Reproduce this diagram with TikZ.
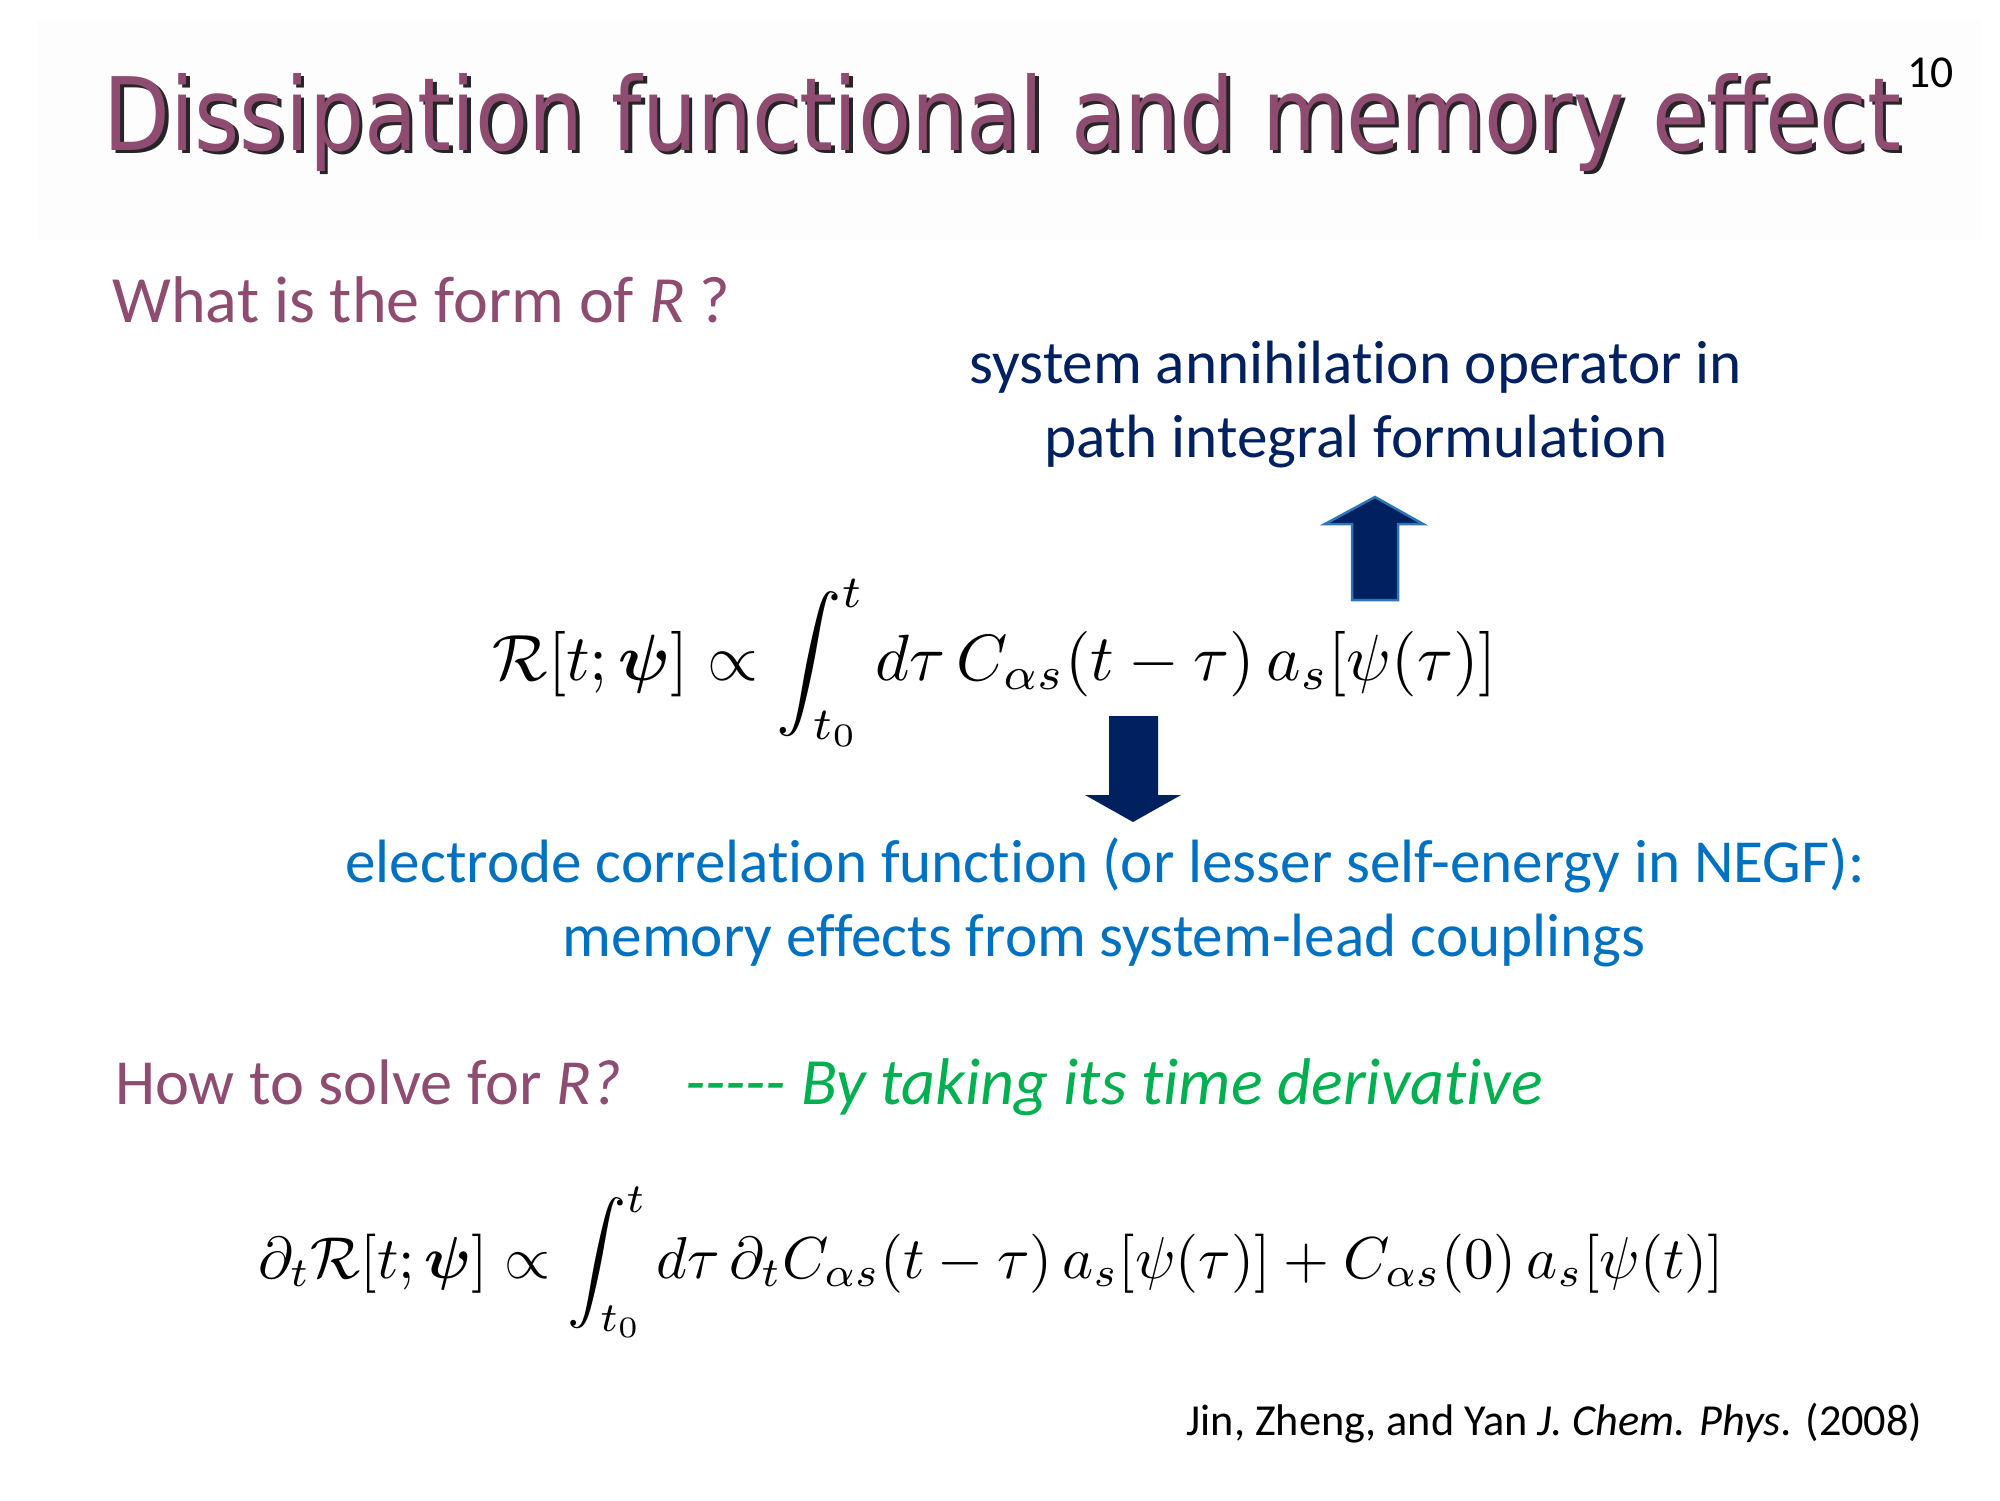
\documentclass[tikz,border=0pt]{standalone}
\usepackage{amsmath,bm}
\usepackage{graphicx}
\usepackage{fontspec}
\setmainfont{Carlito}[Ligatures=NoCommon]
\newfontfamily\titlefont{DejaVu Sans}
\definecolor{mauve}{RGB}{142,76,112}
\definecolor{navyblue}{RGB}{0,32,96}
\definecolor{ppblue}{RGB}{0,112,192}
\definecolor{ppgreen}{RGB}{0,176,80}
\definecolor{arrowedge}{RGB}{46,117,182}
\definecolor{titlebg}{RGB}{253,253,254}
\tikzset{
  txt/.style={inner sep=0pt, outer sep=0pt, font=\fontsize{18.3}{22}\selectfont},
  note/.style={inner sep=0pt, outer sep=0pt, font=\fontsize{17.4}{21}\selectfont},
  bigarrow/.style={fill=navyblue},
}
\begin{document}
\begin{tikzpicture}
\useasboundingbox (0,0) rectangle (20,-15);
\fill[white] (0,0) rectangle (20,-15);
\fill[titlebg] (0.37,-0.20) rectangle (19.81,-2.40);
% title with shadow
\node (titleshadow) [anchor=base west, inner sep=0pt, text=black, opacity=0.85] at (1.065,-1.535)
  {\resizebox{17.97cm}{7.7mm}{\titlefont Dissipation functional and memory effect}};
\node (title) [anchor=base west, inner sep=0pt, text=mauve] at (1.03,-1.50)
  {\resizebox{17.97cm}{7.7mm}{\titlefont Dissipation functional and memory effect}};
\node (pnum) [anchor=base west, inner sep=0pt, font=\fontsize{13}{15}\selectfont] at (19.07,-0.87) {10};
% question 1
\node (q1) [txt, anchor=base west, text=mauve, font=\fontsize{18.8}{22}\selectfont] at (1.125,-3.22) {What is the form of \textit{R} ?};
% navy annotation
\node (sys1) [note, anchor=base, text=navyblue] at (13.56,-3.83) {system annihilation operator in};
\node (sys2) [note, anchor=base, text=navyblue] at (13.56,-4.57) {path integral formulation};
% up arrow
\filldraw[bigarrow, draw=arrowedge, line width=0.25mm]
  (13.75,-4.97) -- (14.23,-5.24) -- (13.98,-5.24) -- (13.98,-6.00)
  -- (13.52,-6.00) -- (13.52,-5.24) -- (13.25,-5.24) -- cycle;
% equation 1
\node (eq1) [anchor=base west, inner sep=0pt] at (4.92,-6.80)
  {\resizebox{10.04cm}{!}{$\displaystyle \mathcal{R}[t;\bm{\psi}] \propto \int_{t_0}^{t} d\tau\, C_{\alpha s}(t-\tau)\, a_s[\psi(\tau)]$}};
% down arrow
\fill[bigarrow]
  (11.09,-7.16) -- (11.58,-7.16) -- (11.58,-7.95) -- (11.81,-7.95)
  -- (11.33,-8.22) -- (10.85,-7.95) -- (11.09,-7.95) -- cycle;
% blue annotation
\node (el1) [note, anchor=base, text=ppblue] at (11.05,-8.82) {electrode correlation function (or lesser self-energy in NEGF):};
\node (el2) [note, anchor=base, text=ppblue] at (11.04,-9.56) {memory effects from system-lead couplings};
% question 2
\node (q2) [txt, anchor=base west, text=mauve] at (1.15,-11.04) {How to solve for \textit{R?}};
\node (ans) [txt, anchor=base west, text=ppgreen, font=\fontsize{18.8}{22}\selectfont] at (6.85,-11.04)
  {\itshape \mbox{-}\mbox{-}\mbox{-}\mbox{-}\mbox{-} By taking its time derivative};
% equation 2
\node (eq2) [anchor=base west, inner sep=0pt] at (2.58,-12.78)
  {\resizebox{14.65cm}{!}{$\displaystyle \partial_t\mathcal{R}[t;\bm{\psi}] \propto \int_{t_0}^{t} d\tau\, \partial_t C_{\alpha s}(t-\tau)\, a_s[\psi(\tau)] + C_{\alpha s}(0)\, a_s[\psi(t)]$}};
% citation
\node (cite) [anchor=base east, inner sep=0pt, font=\fontsize{12.6}{15}\selectfont] at (19.23,-14.35)
  {Jin, Zheng, and Yan \textit{J. Chem. Phys.} (2008)};
\end{tikzpicture}
\end{document}
